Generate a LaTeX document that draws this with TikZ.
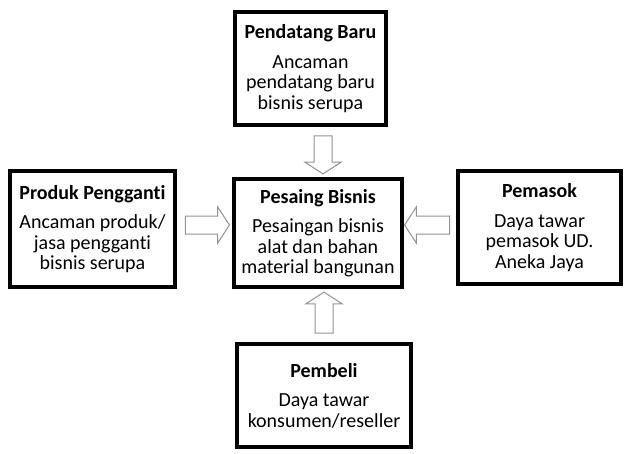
\documentclass[tikz,border=0pt]{standalone}
\usepackage{fontspec}
\setmainfont[Ligatures=NoCommon]{Carlito}
\usetikzlibrary{positioning}
\usetikzlibrary{calc}
\usetikzlibrary{shapes.arrows}

\begin{document}
\begin{tikzpicture}[x=1pt,y=-1pt]
    \tikzstyle{force}=[rectangle, draw=black, line width=4pt, fill=white,
        align=center, inner sep=0pt,
        font=\fontsize{20}{20.5}\selectfont]
    \tikzstyle{push}=[single arrow, draw=gray!85, fill=white, line width=1pt,
        inner xsep=0pt, inner ysep=8.5pt,
        single arrow head extend=9pt, single arrow tip angle=114]

    \useasboundingbox (0,0) rectangle (624,453);

    % the five forces
    \node[force, minimum width=151pt, minimum height=113pt] (baru)
        at (310.5,68.5)
        {\textbf{Pendatang Baru}\\[9pt] Ancaman\\ pendatang baru\\
        bisnis serupa};
    \node[force, minimum width=165pt, minimum height=116pt] (pengganti)
        at (92.5,229)
        {\textbf{Produk Pengganti}\\[9pt] Ancaman produk/\\
        jasa pengganti\\ bisnis serupa};
    \node[force, minimum width=168pt, minimum height=108pt] (pesaing)
        at (318,233)
        {\textbf{Pesaing Bisnis}\\[9pt] Pesaingan bisnis\\
        alat dan bahan\\ material bangunan};
    \node[force, minimum width=163pt, minimum height=113pt] (pemasok)
        at (539.5,227.5)
        {\textbf{Pemasok}\\[9pt] Daya tawar\\ pemasok UD.\\ Aneka Jaya};
    \node[force, minimum width=174pt, minimum height=103pt] (pembeli)
        at (324,395.5)
        {\textbf{Pembeli}\\[9pt] Daya tawar\\ konsumen/reseller};

    % block arrows towards the centre
    \node[push, minimum height=38pt, rotate=-90] (a_baru)
        at ($(baru.south)!.5!(pesaing.north)+(8.75,0)$) {};
    \node[push, minimum height=44pt] (a_pengganti)
        at ($(pengganti.east)!.5!(pesaing.west)+(0,-6)$) {};
    \node[push, minimum height=45pt, rotate=180] (a_pemasok)
        at ($(pemasok.west)!.5!(pesaing.east)+(0,-5.25)$) {};
    \node[push, minimum height=41pt, rotate=90] (a_pembeli)
        at ($(pembeli.north)!.5!(pesaing.south)+(3,0)$) {};
\end{tikzpicture}
\end{document}
